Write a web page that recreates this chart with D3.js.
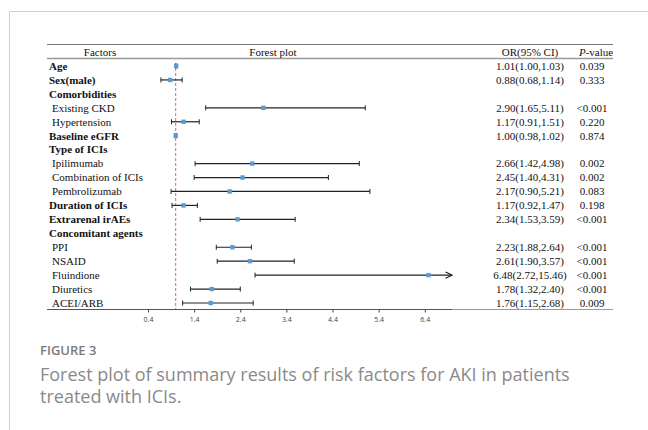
<!DOCTYPE html>
<html>
<head>
<meta charset="utf-8">
<script src="https://cdn.jsdelivr.net/npm/d3@7"></script>
<style>
  body { margin: 0; background: #fff; }
</style>
</head>
<body>
<div id="content"></div>
<script>
"use strict";

// rows of the table, top to bottom
var labels = ["Age", "Sex(male)", "Comorbidities", "Existing CKD", "Hypertension",
  "Baseline eGFR", "Type of ICIs", "Ipilimumab", "Combination of ICIs", "Pembrolizumab",
  "Duration of ICIs", "Extrarenal irAEs", "Concomitant agents", "PPI", "NSAID",
  "Fluindione", "Diuretics", "ACEI/ARB"];
var bold = [1, 1, 1, 0, 0, 1, 1, 0, 0, 0, 1, 1, 1, 0, 0, 0, 0, 0];
var or    = [1.01, 0.88, null, 2.90, 1.17, 1.00, null, 2.66, 2.45, 2.17, 1.17, 2.34, null, 2.23, 2.61, 6.48, 1.78, 1.76];
var lower = [1.00, 0.68, null, 1.65, 0.91, 0.98, null, 1.42, 1.40, 0.90, 0.92, 1.53, null, 1.88, 1.90, 2.72, 1.32, 1.15];
var upper = [1.03, 1.14, null, 5.11, 1.51, 1.02, null, 4.98, 4.31, 5.21, 1.47, 3.59, null, 2.64, 3.57, 15.46, 2.40, 2.68];
var ciText = ["1.01(1.00,1.03)", "0.88(0.68,1.14)", "", "2.90(1.65,5.11)", "1.17(0.91,1.51)",
  "1.00(0.98,1.02)", "", "2.66(1.42,4.98)", "2.45(1.40,4.31)", "2.17(0.90,5.21)",
  "1.17(0.92,1.47)", "2.34(1.53,3.59)", "", "2.23(1.88,2.64)", "2.61(1.90,3.57)",
  "6.48(2.72,15.46)", "1.78(1.32,2.40)", "1.76(1.15,2.68)"];
var pText = ["0.039", "0.333", "", "<0.001", "0.220", "0.874", "", "0.002", "0.002", "0.083",
  "0.198", "<0.001", "", "<0.001", "<0.001", "<0.001", "<0.001", "0.009"];
var tickValues = [0.4, 1.4, 2.4, 3.4, 4.4, 5.4, 6.4];

var serif = '"Liberation Serif", "Times New Roman", serif';
var sans = '"Open Sans", sans-serif';
var fs = 11;

var width = 648, height = 430;
var svg = d3.select('#content').append('svg')
  .attr('width', width)
  .attr('height', height);

// page frame (left and top rules)
svg.append('line').attr('x1', 9.5).attr('x2', 9.5).attr('y1', 11.5).attr('y2', height)
  .attr('stroke', '#cfcfcf').attr('stroke-width', 1);
svg.append('line').attr('x1', 9.5).attr('x2', width).attr('y1', 11.5).attr('y2', 11.5)
  .attr('stroke', '#cfcfcf').attr('stroke-width', 1);

var x = d3.scaleLinear().domain([-1.79, 6.99]).range([47, 452]);
var y = d3.scalePoint().domain(d3.range(labels.length)).range([66, 303]);
var axisY = 309.5;

// table rules
svg.append('line').attr('x1', 47).attr('x2', 613).attr('y1', 44.5).attr('y2', 44.5)
  .attr('stroke', '#777').attr('stroke-width', 1);
svg.append('line').attr('x1', 47).attr('x2', 613).attr('y1', 58.5).attr('y2', 58.5)
  .attr('stroke', '#999').attr('stroke-width', 1.6);
svg.append('line').attr('x1', 452).attr('x2', 613).attr('y1', axisY).attr('y2', axisY)
  .attr('stroke', '#999').attr('stroke-width', 1);

// header
var head = svg.append('g').style('font-family', serif).style('font-size', fs + 'px')
  .attr('fill', '#111').attr('text-anchor', 'middle');
head.append('text').attr('x', 100).attr('y', 55.5).text('Factors');
head.append('text').attr('x', 273).attr('y', 55.5).text('Forest plot');
head.append('text').attr('x', 530).attr('y', 55.5).text('OR(95% CI)');
var ph = head.append('text').attr('x', 596).attr('y', 55.5);
ph.append('tspan').attr('font-style', 'italic').text('P');
ph.append('tspan').text('-value');

// reference line at OR = 1
svg.append('line').attr('x1', x(1)).attr('x2', x(1)).attr('y1', 63).attr('y2', axisY)
  .attr('stroke', '#e06666').attr('stroke-width', 1).attr('stroke-dasharray', '3,2');

// axis
var axis = svg.append('g').attr('transform', 'translate(0,' + axisY + ')')
  .call(d3.axisBottom(x).tickValues(tickValues).tickSize(3).tickFormat(d3.format('.1f')));
axis.select('.domain').attr('stroke', '#555').attr('d', 'M' + x.range()[0] + ',0H' + x.range()[1]);
axis.selectAll('.tick line').attr('stroke', '#444');
axis.selectAll('text').style('font-size', '7px').style('font-family', sans).attr('fill', '#444')
  .attr('dy', '0.9em');

// arrow marker
svg.append('defs').append('marker')
  .attr('id', 'arrow').attr('viewBox', '0 0 10 10').attr('refX', 9).attr('refY', 5)
  .attr('markerWidth', 8).attr('markerHeight', 8).attr('markerUnits', 'userSpaceOnUse')
  .attr('orient', 'auto')
  .append('path').attr('d', 'M1,1L9,5L1,9').attr('fill', 'none').attr('stroke', '#111').attr('stroke-width', 1.3);

var idx = d3.range(labels.length);
var xMax = x.domain()[1];

// rows text
var rows = svg.append('g').style('font-family', serif).style('font-size', fs + 'px').attr('fill', '#111');
rows.selectAll('.label').data(idx).enter().append('text')
  .attr('x', function(i) { return bold[i] ? 49 : 52; })
  .attr('y', function(i) { return y(i) + 3.8; })
  .attr('font-weight', function(i) { return bold[i] ? 'bold' : 'normal'; })
  .text(function(i) { return labels[i]; });
rows.selectAll('.ci').data(idx).enter().append('text')
  .attr('x', 530).attr('y', function(i) { return y(i) + 3.8; })
  .attr('text-anchor', 'middle')
  .text(function(i) { return ciText[i]; });
rows.selectAll('.p').data(idx).enter().append('text')
  .attr('x', 592).attr('y', function(i) { return y(i) + 3.8; })
  .attr('text-anchor', 'middle')
  .text(function(i) { return pText[i]; });

// confidence intervals
var est = idx.filter(function(i) { return or[i] !== null; });
var ci = svg.append('g');
ci.selectAll('line.ci').data(est).enter().append('line')
  .attr('x1', function(i) { return x(lower[i]); })
  .attr('x2', function(i) { return x(Math.min(upper[i], xMax)); })
  .attr('y1', function(i) { return y(i); })
  .attr('y2', function(i) { return y(i); })
  .attr('stroke', '#222').attr('stroke-width', 1.2)
  .attr('marker-end', function(i) { return upper[i] > xMax ? 'url(#arrow)' : null; });
// caps
ci.selectAll('line.capl').data(est).enter().append('line')
  .attr('x1', function(i) { return x(lower[i]); })
  .attr('x2', function(i) { return x(lower[i]); })
  .attr('y1', function(i) { return y(i) - 2.5; })
  .attr('y2', function(i) { return y(i) + 2.5; })
  .attr('stroke', '#222').attr('stroke-width', 1);
ci.selectAll('line.capu').data(est.filter(function(i) { return upper[i] <= xMax; })).enter().append('line')
  .attr('x1', function(i) { return x(upper[i]); })
  .attr('x2', function(i) { return x(upper[i]); })
  .attr('y1', function(i) { return y(i) - 2.5; })
  .attr('y2', function(i) { return y(i) + 2.5; })
  .attr('stroke', '#222').attr('stroke-width', 1);
ci.selectAll('rect').data(est).enter().append('rect')
  .attr('x', function(i) { return x(or[i]) - 2.2; })
  .attr('y', function(i) { return y(i) - 2.2; })
  .attr('width', 4.4).attr('height', 4.4)
  .attr('fill', '#5b9bd5');

// caption
var cap = svg.append('g').style('font-family', sans).attr('fill', '#8a8a8a');
cap.append('text').attr('x', 40).attr('y', 355).style('font-size', '13px').attr('font-weight', 600)
  .attr('fill', '#7a7a7a').text('FIGURE 3');
cap.append('text').attr('x', 40).attr('y', 381).style('font-size', '18px')
  .text('Forest plot of summary results of risk factors for AKI in patients');
cap.append('text').attr('x', 40).attr('y', 403).style('font-size', '18px')
  .text('treated with ICIs.');
</script>
</body>
</html>
